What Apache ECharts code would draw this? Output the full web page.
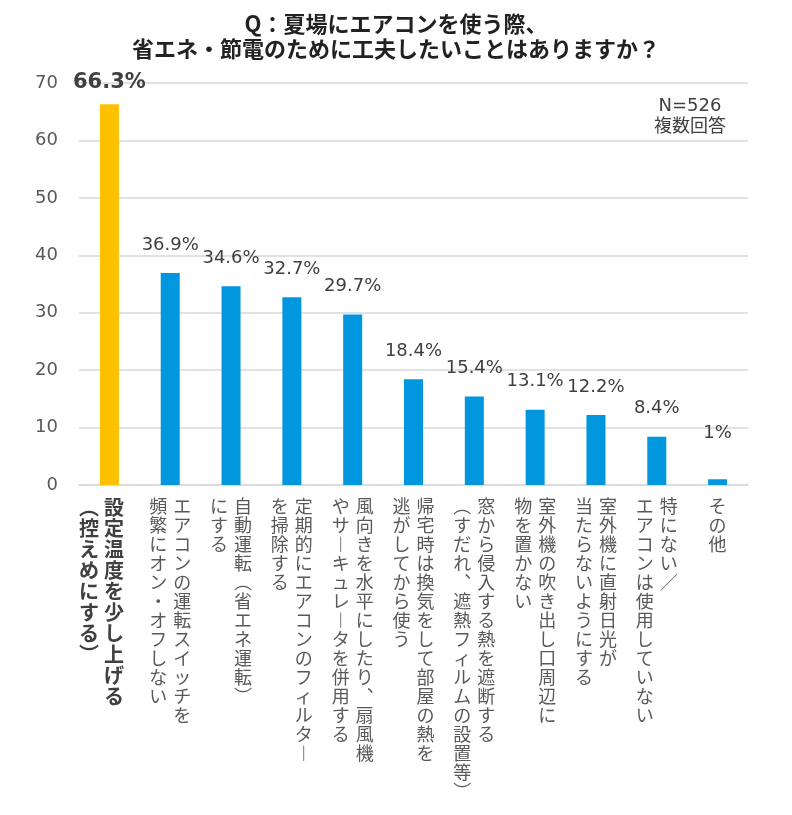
<!DOCTYPE html>
<html>
<head>
<meta charset="utf-8">
<title>省エネ・節電の工夫</title>
<script src="https://cdn.jsdelivr.net/npm/echarts@6/dist/echarts.min.js"></script>
<style>
  html, body { margin: 0; padding: 0; background: #fff; }
  #chart { width: 792px; height: 815px; }
</style>
</head>
<body>
<div id="chart"></div>
<script>
// 各項目のラベル（縦書き、右の列から順に）
const categories = [
  ['設定温度を少し上げる', '（控えめにする）'],
  ['エアコンの運転スイッチを', '頻繁にオン・オフしない'],
  ['自動運転（省エネ運転）', 'にする'],
  ['定期的にエアコンのフィルター', 'を掃除する'],
  ['風向きを水平にしたり、扇風機', 'やサーキュレータを併用する'],
  ['帰宅時は換気をして部屋の熱を', '逃がしてから使う'],
  ['窓から侵入する熱を遮断する', '（すだれ、遮熱フィルムの設置等）'],
  ['室外機の吹き出し口周辺に', '物を置かない'],
  ['室外機に直射日光が', '当たらないようにする'],
  ['特にない／', 'エアコンは使用していない'],
  ['その他']
]
const values = [66.3, 36.9, 34.6, 32.7, 29.7, 18.4, 15.4, 13.1, 12.2, 8.4, 1]
const yTicks = { min: 0, max: 70, interval: 10 }
const titleLines = ['Q：夏場にエアコンを使う際、', '省エネ・節電のために工夫したいことはありますか？']
const noteLines = ['N=526', '複数回答']

const NUM_FONT = "'DejaVu Sans', 'Noto Sans CJK JP', sans-serif"
const JP_FONT = "'Noto Sans CJK JP', sans-serif"

// 縦書き用の字形に置き換える
const VERT = { '（': '︵', '）': '︶', '、': '︑', 'ー': '︱' }

function toVertical(cols, style, pad) {
  const chars = cols.map(c => [...c].map(ch => VERT[ch] || ch))
  const n = Math.max(...chars.map(c => c.length))
  const lines = []
  for (let i = 0; i < n; i++) {
    // 縦書きは右から左へ読むので、列を逆順に並べる
    const parts = chars.slice().reverse().map(c => `{${style}|${c[i] || '　'}}`)
    if (pad) parts.push('{sp|　}')
    lines.push(parts.join(''))
  }
  return lines.join('\n')
}

const chart = echarts.init(document.getElementById('chart'), null, { renderer: 'canvas' })

const lastIndex = values.length - 1

const option = {
  animation: false,
  title: {
    text: titleLines.join('\n'),
    left: 'center',
    top: 6,
    textStyle: {
      fontFamily: JP_FONT,
      fontSize: 22,
      fontWeight: 'bold',
      color: '#222',
      lineHeight: 25
    }
  },
  graphic: [
    {
      type: 'text',
      x: 690,
      y: 96,
      style: {
        text: noteLines.join('\n'),
        fontFamily: NUM_FONT,
        fontSize: 18,
        lineHeight: 21,
        fill: '#404040',
        align: 'center'
      }
    }
  ],
  grid: {
    left: 79,
    right: 44,
    top: 83,
    bottom: 330,
    containLabel: false
  },
  xAxis: {
    type: 'category',
    data: categories.map((c, i) => i),
    axisLine: { lineStyle: { color: '#D9D9D9', width: 1.5 } },
    axisTick: { show: false },
    axisLabel: {
      interval: 0,
      margin: 12,
      verticalAlign: 'top',
      formatter: (v, i) => i === 0 ? toVertical(categories[i], 'b', true) : toVertical(categories[i], 'r', false),
      rich: {
        r: {
          fontFamily: JP_FONT,
          fontSize: 18,
          lineHeight: 19,
          width: 24,
          align: 'center',
          color: '#595959'
        },
        b: {
          fontFamily: JP_FONT,
          fontSize: 20,
          fontWeight: 'bold',
          lineHeight: 21,
          width: 25,
          align: 'center',
          color: '#404040'
        },
        sp: {
          fontSize: 10,
          width: 16,
          align: 'center',
          color: 'rgba(0,0,0,0)'
        }
      }
    }
  },
  yAxis: {
    type: 'value',
    min: yTicks.min,
    max: yTicks.max,
    interval: yTicks.interval,
    axisLine: { show: false },
    axisTick: { show: false },
    axisLabel: {
      margin: 21,
      fontFamily: NUM_FONT,
      fontSize: 18,
      color: '#595959'
    },
    splitLine: { lineStyle: { color: '#D9D9D9', width: 1.5 } }
  },
  series: [
    {
      type: 'bar',
      barWidth: 19,
      data: values.map((v, i) => ({
        value: v,
        itemStyle: { color: i === 0 ? '#FFC000' : '#0097DE' },
        label: i === 0
          ? { fontSize: 21, fontWeight: 'bold', distance: 11 }
          : { distance: i === lastIndex ? 37 : 19 }
      })),
      label: {
        show: true,
        position: 'top',
        formatter: '{c}%',
        fontFamily: NUM_FONT,
        fontSize: 18,
        color: '#404040'
      }
    }
  ]
}

chart.setOption(option)
</script>
</body>
</html>
